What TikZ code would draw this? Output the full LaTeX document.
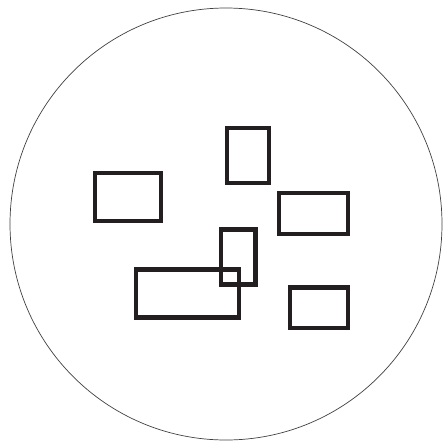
\documentclass[tikz,border=0pt]{standalone}
\definecolor{khung}{HTML}{231F20}
\begin{document}
\begin{tikzpicture}[x=1pt, y=-1pt, line join=miter]
				\def\r{216}
				\useasboundingbox (0,0) rectangle (444,442);
				\path
				(226,224) coordinate (O)
				;
				\draw [black!75, line width=0.7pt]
				(O) circle (\r pt);
				\foreach \a/\b/\c/\d in {95/173/161/221, 227/128/269/183, 279/193/348/234, 221/229.5/255.5/284.5, 136/269.5/239/317.5, 290/287.5/348/328}
				\draw[khung, line width=4.4pt] (\a,\b) rectangle (\c,\d);
			\end{tikzpicture}
\end{document}
